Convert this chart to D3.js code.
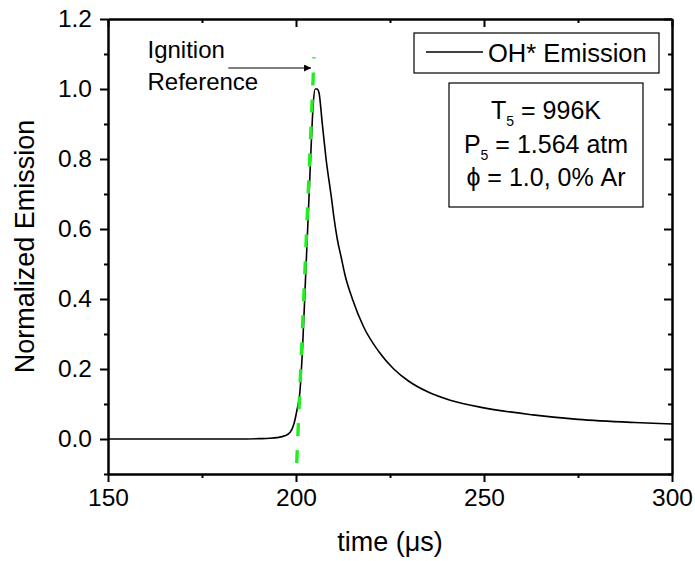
<!DOCTYPE html>
<html>
<head>
<meta charset="utf-8">
<script src="https://cdn.jsdelivr.net/npm/d3@7/dist/d3.min.js"></script>
<style>
  body { margin: 0; background: #fff; }
  text { font-family: "Liberation Sans", Arial, sans-serif; fill: #000; }
</style>
</head>
<body>
<script>
// OH* emission trace
var time = [150, 170, 185, 190, 193, 195, 197, 198.5, 199.5, 200.3, 201, 201.7, 202.5, 203.3, 204, 204.6, 205.1, 205.6, 206.1,
            207, 208, 209.5, 210, 211, 212, 213, 215, 218, 222, 226, 230, 235, 241, 250, 263, 275, 290, 300];
var emission = [0, 0, 0, 0.001, 0.002, 0.004, 0.009, 0.02, 0.045, 0.085, 0.13, 0.25, 0.45, 0.65, 0.83, 0.96, 1.0, 1.0, 0.99,
                0.9, 0.8, 0.683, 0.64, 0.57, 0.52, 0.47, 0.40, 0.32, 0.25, 0.20, 0.165, 0.135, 0.111, 0.089, 0.069, 0.056, 0.047, 0.043];

// green tangent line (ignition reference)
var refTime = [200.19, 204.79];
var refEmission = [-0.069, 1.091];

var xMajor = [150, 200, 250, 300];
var xMinor = [175, 225, 275];
var yMajor = [0, 0.2, 0.4, 0.6, 0.8, 1.0, 1.2];
var yMinor = [-0.1, 0.1, 0.3, 0.5, 0.7, 0.9, 1.1];

var margin = {top: 19, right: 23, bottom: 87, left: 108}
  , W = 695, H = 561
  , width = W - margin.left - margin.right
  , height = H - margin.top - margin.bottom;

var x = d3.scaleLinear().domain([150, 300]).range([0, width]);
var y = d3.scaleLinear().domain([-0.1, 1.2]).range([height, 0]);

var svg = d3.select('body').append('svg')
  .attr('width', W)
  .attr('height', H);

var main = svg.append('g')
  .attr('transform', 'translate(' + margin.left + ',' + margin.top + ')');

// data first, axes drawn over
var line = d3.line()
  .x(function (d) { return x(d[0]); })
  .y(function (d) { return y(d[1]); })
  .curve(d3.curveMonotoneX);

main.append('path')
  .datum(time.map(function (t, i) { return [t, emission[i]]; }))
  .attr('d', line)
  .attr('fill', 'none')
  .attr('stroke', '#000')
  .attr('stroke-width', 1.6);

main.append('line')
  .attr('x1', x(refTime[0])).attr('y1', y(refEmission[0]))
  .attr('x2', x(refTime[1])).attr('y2', y(refEmission[1]))
  .attr('stroke', '#22ee22')
  .attr('stroke-width', 3.4)
  .attr('stroke-dasharray', '13,14');

function styleAxis(g) {
  g.attr('font-family', null);
  g.selectAll('path, line').attr('stroke', '#000').attr('stroke-width', 2);
  g.selectAll('text').style('font-size', '24.5px').attr('fill', '#000');
}

// bottom
main.append('g').attr('transform', 'translate(0,' + height + ')')
  .call(d3.axisBottom(x).tickValues(xMajor).tickSizeInner(8).tickSizeOuter(0).tickPadding(7).tickFormat(d3.format('d')))
  .call(styleAxis);
main.append('g').attr('transform', 'translate(0,' + height + ')')
  .call(d3.axisBottom(x).tickValues(xMinor).tickSizeInner(4).tickSizeOuter(0).tickFormat(''))
  .call(styleAxis);
// top
main.append('g')
  .call(d3.axisTop(x).tickValues(xMajor).tickSizeInner(-8).tickSizeOuter(0).tickFormat(''))
  .call(styleAxis);
main.append('g')
  .call(d3.axisTop(x).tickValues(xMinor).tickSizeInner(-4).tickSizeOuter(0).tickFormat(''))
  .call(styleAxis);
// left
main.append('g')
  .call(d3.axisLeft(y).tickValues(yMajor).tickSizeInner(8).tickSizeOuter(0).tickPadding(8).tickFormat(d3.format('.1f')))
  .call(styleAxis);
main.append('g')
  .call(d3.axisLeft(y).tickValues(yMinor).tickSizeInner(4).tickSizeOuter(0).tickFormat(''))
  .call(styleAxis);
// right
main.append('g').attr('transform', 'translate(' + width + ',0)')
  .call(d3.axisRight(y).tickValues(yMajor).tickSizeInner(-8).tickSizeOuter(0).tickFormat(''))
  .call(styleAxis);
main.append('g').attr('transform', 'translate(' + width + ',0)')
  .call(d3.axisRight(y).tickValues(yMinor).tickSizeInner(-4).tickSizeOuter(0).tickFormat(''))
  .call(styleAxis);

// axis titles
svg.append('text')
  .attr('x', margin.left + width / 2).attr('y', 551)
  .attr('text-anchor', 'middle')
  .style('font-size', '27px')
  .text('time (\u03bcs)');

svg.append('text')
  .attr('transform', 'translate(34,' + (margin.top + height / 2) + ') rotate(-90)')
  .attr('text-anchor', 'middle')
  .style('font-size', '27px')
  .text('Normalized Emission');

// ignition annotation
var ann = main.append('g');
ann.append('text').attr('x', x(160.5)).attr('y', y(1.09)).style('font-size', '24px').text('Ignition');
ann.append('text').attr('x', x(160.5)).attr('y', y(0.998)).style('font-size', '24px').text('Reference');
svg.append('defs').append('marker')
  .attr('id', 'arr').attr('viewBox', '0 0 10 10')
  .attr('refX', 10).attr('refY', 5)
  .attr('markerWidth', 9).attr('markerHeight', 7)
  .attr('markerUnits', 'userSpaceOnUse')
  .attr('orient', 'auto')
  .append('path').attr('d', 'M0,0L10,5L0,10Z').attr('fill', '#000');
ann.append('line')
  .attr('x1', x(182)).attr('y1', y(1.06))
  .attr('x2', x(204)).attr('y2', y(1.06))
  .attr('stroke', '#000').attr('stroke-width', 1)
  .attr('marker-end', 'url(#arr)');

// legend
var leg = svg.append('g');
leg.append('rect').attr('x', 414).attr('y', 33).attr('width', 245).attr('height', 40)
  .attr('fill', '#fff').attr('stroke', '#000').attr('stroke-width', 1.2);
leg.append('line').attr('x1', 426).attr('x2', 483).attr('y1', 52).attr('y2', 52)
  .attr('stroke', '#000').attr('stroke-width', 1.6);
leg.append('text').attr('x', 488).attr('y', 62).style('font-size', '25.5px').text('OH* Emission');

// conditions box
var box = svg.append('g');
box.append('rect').attr('x', 449).attr('y', 83).attr('width', 194).attr('height', 124)
  .attr('fill', '#fff').attr('stroke', '#000').attr('stroke-width', 1.2);
var cx = 546;
var t1 = box.append('text').attr('x', cx).attr('y', 119).attr('text-anchor', 'middle').style('font-size', '25px');
t1.append('tspan').text('T');
t1.append('tspan').attr('dy', 7).style('font-size', '14px').text('5');
t1.append('tspan').attr('dy', -7).text(' = 996K');
var t2 = box.append('text').attr('x', cx).attr('y', 153).attr('text-anchor', 'middle').style('font-size', '25px');
t2.append('tspan').text('P');
t2.append('tspan').attr('dy', 7).style('font-size', '14px').text('5');
t2.append('tspan').attr('dy', -7).text(' = 1.564 atm');
box.append('text').attr('x', cx).attr('y', 186).attr('text-anchor', 'middle').style('font-size', '25px')
  .text('\u03d5 = 1.0, 0% Ar');
</script>
</body>
</html>
